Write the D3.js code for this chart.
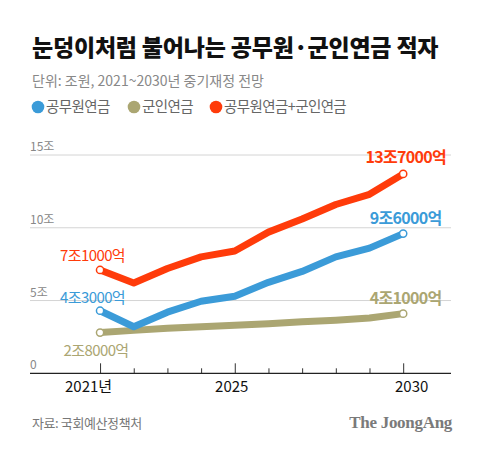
<!DOCTYPE html>
<html>
<head>
<meta charset="utf-8">
<script src="https://cdn.jsdelivr.net/npm/d3@7"></script>
<style>
  body { margin: 0; background: #fff; }
  svg { display: block; font-family: "Noto Sans CJK KR", "Noto Sans", sans-serif; }
</style>
</head>
<body>
<div id="chart"></div>
<script>
// data (unit: 조원)
const years = [2021, 2022, 2023, 2024, 2025, 2026, 2027, 2028, 2029, 2030]
const civilPension = [4.3, 3.2, 4.2, 4.95, 5.3, 6.25, 7.0, 8.0, 8.6, 9.6]
const militaryPension = [2.8, 2.95, 3.1, 3.2, 3.3, 3.4, 3.55, 3.65, 3.8, 4.1]
const combined = [7.1, 6.2, 7.2, 8.0, 8.4, 9.7, 10.6, 11.6, 12.3, 13.7]
const yTicks = [0, 5, 10, 15]
const yTickLabels = ["0", "5조", "10조", "15조"]
const xLabelYears = [2021, 2025, 2030]
const xLabels = ["2021년", "2025", "2030"]
const seriesNames = ["공무원연금", "군인연금", "공무원연금+군인연금"]
const startLabels = ["4조3000억", "2조8000억", "7조1000억"]
const endLabels = ["9조6000억", "4조1000억", "13조7000억"]

const W = 480, H = 451
const COLORS = ["#3b9bd8", "#aba672", "#ff3b0a"]

const svg = d3.select("#chart").append("svg")
    .attr("width", W)
    .attr("height", H)

const x = d3.scaleLinear().domain([2018.92, 2031.42]).range([30, 451])
const y = d3.scaleLinear().domain([0, 15]).range([373.3, 155])

// title + subtitle
svg.append("text")
    .attr("x", 32).attr("y", 56)
    .attr("font-size", 23).attr("font-weight", 900)
    .attr("letter-spacing", -0.2)
    .attr("fill", "#111")
    .text("눈덩이처럼 불어나는 공무원·군인연금 적자")

svg.append("text")
    .attr("x", 32).attr("y", 86)
    .attr("font-size", 14).attr("letter-spacing", 0)
    .attr("fill", "#888")
    .text("단위: 조원, 2021~2030년 중기재정 전망")

// legend
const legendX = [38, 134, 216]
const legend = svg.append("g").selectAll("g")
    .data(seriesNames)
    .join("g")
    .attr("transform", (d, i) => `translate(${legendX[i]}, 107)`)
legend.append("circle").attr("r", 6.3).attr("fill", (d, i) => COLORS[i])
legend.append("text")
    .attr("x", 8).attr("y", 5)
    .attr("font-size", 14.5).attr("letter-spacing", -0.6)
    .attr("fill", "#666")
    .text(d => d)

// grid + y labels
svg.append("g").selectAll("line")
    .data(yTicks.filter(d => d > 0))
    .join("line")
    .attr("x1", 30).attr("x2", 451)
    .attr("y1", d => y(d)).attr("y2", d => y(d))
    .attr("stroke", "#d4d4d4").attr("stroke-width", 1)

svg.append("g").selectAll("text")
    .data(yTicks)
    .join("text")
    .attr("x", 30).attr("y", d => y(d) - 4)
    .attr("font-size", 12).attr("fill", "#888")
    .text((d, i) => yTickLabels[i])

// x axis (ticks point upward)
const xAxis = d3.axisTop(x)
    .tickValues(years)
    .tickSize(0)
    .tickFormat("")
const axisG = svg.append("g")
    .attr("transform", `translate(0, ${y(0)})`)
    .call(xAxis)
axisG.select(".domain").remove()
axisG.append("line")
    .attr("x1", 30).attr("x2", 451)
    .attr("stroke", "#222").attr("stroke-width", 1.2)
axisG.selectAll(".tick line")
    .attr("y2", d => xLabelYears.includes(d) ? -10 : -5)
    .attr("stroke", "#333")

const labelShift = [-11.5, -3, 8.5]
svg.append("g").selectAll("text")
    .data(xLabelYears)
    .join("text")
    .attr("x", (d, i) => x(d) + labelShift[i])
    .attr("y", 392)
    .attr("text-anchor", "middle")
    .attr("font-size", 15).attr("fill", "#111")
    .text((d, i) => xLabels[i])

// lines
const series = [civilPension, militaryPension, combined]
const line = d3.line()
    .x((d, i) => x(years[i]))
    .y(d => y(d))

const order = [1, 0, 2]
order.forEach(k => {
    svg.append("path")
        .datum(series[k])
        .attr("d", line)
        .attr("fill", "none")
        .attr("stroke", COLORS[k])
        .attr("stroke-width", 7)
        .attr("stroke-linejoin", "round")
})

// endpoint circles
order.forEach(k => {
    const vals = series[k]
    const last = vals.length - 1
    svg.append("g").selectAll("circle")
        .data([0, last])
        .join("circle")
        .attr("cx", i => x(years[i]))
        .attr("cy", i => y(vals[i]))
        .attr("r", 3.6)
        .attr("fill", "#fff")
        .attr("stroke", COLORS[k])
        .attr("stroke-width", 1.5)
})

// value labels
const startDx = [-7.5, -4, -7.5]
const startDy = [-8, 23, -8.5]
const endDy = [-10, -10, -11]
series.forEach((vals, k) => {
    const last = vals.length - 1
    svg.append("text")
        .attr("x", x(years[0]) + startDx[k])
        .attr("y", y(vals[0]) + startDy[k])
        .attr("text-anchor", "middle")
        .attr("font-size", 15).attr("letter-spacing", -0.6)
        .attr("fill", COLORS[k])
        .text(startLabels[k])
    svg.append("text")
        .attr("x", x(years[last]) + 2.5)
        .attr("y", y(vals[last]) + endDy[k])
        .attr("text-anchor", "middle")
        .attr("font-size", 16).attr("font-weight", 700).attr("letter-spacing", -0.7)
        .attr("fill", COLORS[k])
        .text(endLabels[k])
})

// footer
svg.append("text")
    .attr("x", 32).attr("y", 428)
    .attr("font-size", 13).attr("letter-spacing", -0.4)
    .attr("fill", "#777")
    .text("자료: 국회예산정책처")

svg.append("text")
    .attr("x", 452).attr("y", 428)
    .attr("text-anchor", "end")
    .attr("font-family", "'Liberation Serif', 'DejaVu Serif', serif")
    .attr("font-size", 17).attr("font-weight", 700)
    .attr("letter-spacing", -0.3)
    .attr("fill", "#7a7a7a")
    .text("The JoongAng")
</script>
</body>
</html>
